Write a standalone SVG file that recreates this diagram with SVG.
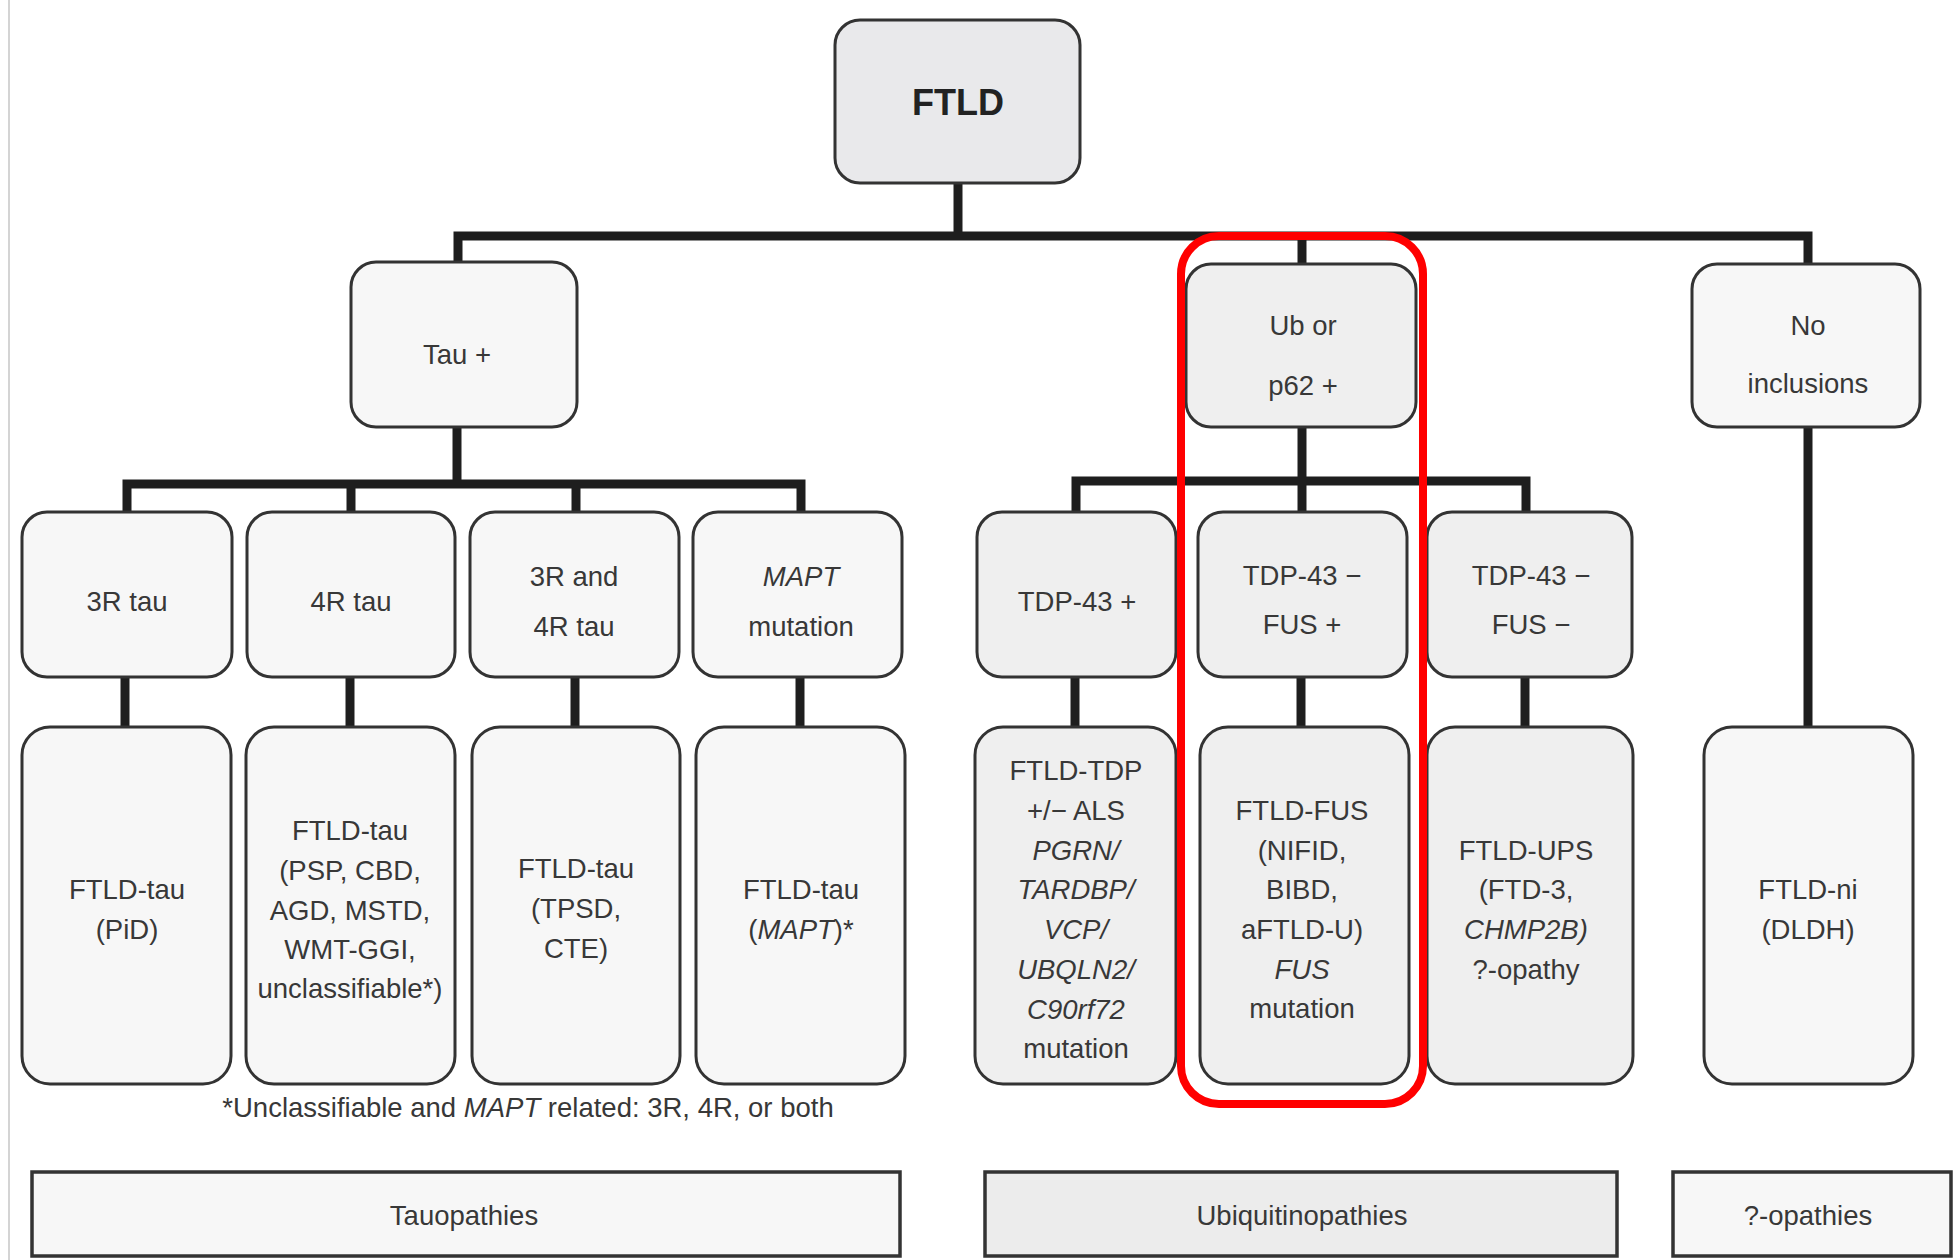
<svg xmlns="http://www.w3.org/2000/svg" width="1954" height="1260" viewBox="0 0 1954 1260">
<style>
  .box { stroke: #333; stroke-width: 3; }
  .tau { fill: #f7f7f7; }
  .ub { fill: #efefef; }
  .root { fill: #e9e9eb; }
  .cat { stroke: #333; stroke-width: 3.5; }
  .conn { fill: none; stroke: #1e1e1e; stroke-width: 9; stroke-linejoin: miter; stroke-linecap: butt; }
  text { font-family: "Liberation Sans", Arial, sans-serif; font-size: 27.5px; fill: #383838; text-anchor: middle; }
  .bold { font-weight: bold; font-size: 36px; fill: #222; }
  .it { font-style: italic; }
</style>
<rect width="1954" height="1260" fill="#ffffff"/>
<line x1="9" y1="0" x2="9" y2="1260" stroke="#d4d4d4" stroke-width="2"/>

<g id="connectors">
  <path class="conn" d="M958,183 V236"/>
  <path class="conn" d="M458,262 V236 H1808 V263"/>
  <path class="conn" d="M1302,236 V264"/>
  <path class="conn" d="M457,427 V484"/>
  <path class="conn" d="M127,512 V484 H801 V512"/>
  <path class="conn" d="M351,484 V512"/>
  <path class="conn" d="M576,484 V512"/>
  <path class="conn" d="M1302,427 V512"/>
  <path class="conn" d="M1076,512 V481 H1526 V512"/>
  <path class="conn" d="M1808,427 V727"/>
  <path class="conn" d="M125,677 V727"/>
  <path class="conn" d="M350,677 V727"/>
  <path class="conn" d="M575,677 V727"/>
  <path class="conn" d="M800,677 V727"/>
  <path class="conn" d="M1075,677 V727"/>
  <path class="conn" d="M1301,677 V727"/>
  <path class="conn" d="M1525,677 V727"/>
</g>

<g id="n-ftld">
  <rect class="box root" x="835" y="20" width="245" height="163" rx="25"/>
  <text class="bold" x="958" y="115">FTLD</text>
</g>

<g id="n-tau">
  <rect class="box tau" x="351" y="262" width="226" height="165" rx="25"/>
  <text x="457" y="364">Tau +</text>
</g>
<g id="n-ub">
  <rect class="box ub" x="1186" y="264" width="230" height="163" rx="25"/>
  <text x="1303" y="335">Ub or</text>
  <text x="1303" y="395">p62 +</text>
</g>
<g id="n-noinc">
  <rect class="box tau" x="1692" y="264" width="228" height="163" rx="25"/>
  <text x="1808" y="335">No</text>
  <text x="1808" y="393">inclusions</text>
</g>

<g id="n-3r">
  <rect class="box tau" x="22" y="512" width="210" height="165" rx="25"/>
  <text x="127" y="611">3R tau</text>
</g>
<g id="n-4r">
  <rect class="box tau" x="247" y="512" width="208" height="165" rx="25"/>
  <text x="351" y="611">4R tau</text>
</g>
<g id="n-3r4r">
  <rect class="box tau" x="470" y="512" width="209" height="165" rx="25"/>
  <text x="574" y="586">3R and</text>
  <text x="574" y="636">4R tau</text>
</g>
<g id="n-mapt">
  <rect class="box tau" x="693" y="512" width="209" height="165" rx="25"/>
  <text class="it" x="801" y="586">MAPT</text>
  <text x="801" y="636">mutation</text>
</g>
<g id="n-tdp">
  <rect class="box ub" x="977" y="512" width="199" height="165" rx="25"/>
  <text x="1077" y="611">TDP-43 +</text>
</g>
<g id="n-fusp">
  <rect class="box ub" x="1198" y="512" width="209" height="165" rx="25"/>
  <text x="1302" y="585">TDP-43 −</text>
  <text x="1302" y="634">FUS +</text>
</g>
<g id="n-fusm">
  <rect class="box ub" x="1427" y="512" width="205" height="165" rx="25"/>
  <text x="1531" y="585">TDP-43 −</text>
  <text x="1531" y="634">FUS −</text>
</g>

<g id="n-pid">
  <rect class="box tau" x="22" y="727" width="209" height="357" rx="28"/>
  <text x="127" y="899">FTLD-tau</text>
  <text x="127" y="939">(PiD)</text>
</g>
<g id="n-4rdis">
  <rect class="box tau" x="246" y="727" width="209" height="357" rx="28"/>
  <text x="350" y="840">FTLD-tau</text>
  <text x="350" y="880">(PSP, CBD,</text>
  <text x="350" y="920">AGD, MSTD,</text>
  <text x="350" y="959">WMT-GGI,</text>
  <text x="350" y="998">unclassifiable*)</text>
</g>
<g id="n-tpsd">
  <rect class="box tau" x="472" y="727" width="208" height="357" rx="28"/>
  <text x="576" y="878">FTLD-tau</text>
  <text x="576" y="918">(TPSD,</text>
  <text x="576" y="958">CTE)</text>
</g>
<g id="n-maptdis">
  <rect class="box tau" x="696" y="727" width="209" height="357" rx="28"/>
  <text x="801" y="899">FTLD-tau</text>
  <text x="801" y="939">(<tspan class="it">MAPT</tspan>)*</text>
</g>
<g id="n-ftldtdp">
  <rect class="box ub" x="975" y="727" width="201" height="357" rx="28"/>
  <text x="1076" y="780">FTLD-TDP</text>
  <text x="1076" y="820">+/− ALS</text>
  <text class="it" x="1076" y="860">PGRN/</text>
  <text class="it" x="1076" y="899">TARDBP/</text>
  <text class="it" x="1076" y="939">VCP/</text>
  <text class="it" x="1076" y="979">UBQLN2/</text>
  <text class="it" x="1076" y="1019">C90rf72</text>
  <text x="1076" y="1058">mutation</text>
</g>
<g id="n-ftldfus">
  <rect class="box ub" x="1200" y="727" width="209" height="357" rx="28"/>
  <text x="1302" y="820">FTLD-FUS</text>
  <text x="1302" y="860">(NIFID,</text>
  <text x="1302" y="899">BIBD,</text>
  <text x="1302" y="939">aFTLD-U)</text>
  <text class="it" x="1302" y="979">FUS</text>
  <text x="1302" y="1018">mutation</text>
</g>
<g id="n-ftldups">
  <rect class="box ub" x="1427" y="727" width="206" height="357" rx="28"/>
  <text x="1526" y="860">FTLD-UPS</text>
  <text x="1526" y="899">(FTD-3,</text>
  <text class="it" x="1526" y="939">CHMP2B)</text>
  <text x="1526" y="979">?-opathy</text>
</g>
<g id="n-ftldni">
  <rect class="box tau" x="1704" y="727" width="209" height="357" rx="28"/>
  <text x="1808" y="899">FTLD-ni</text>
  <text x="1808" y="939">(DLDH)</text>
</g>

<g id="footnote">
  <text x="528" y="1117">*Unclassifiable and <tspan class="it">MAPT</tspan> related: 3R, 4R, or both</text>
</g>

<g id="highlight">
  <rect x="1181" y="236" width="242" height="868" rx="38" fill="none" stroke="#ff0000" stroke-width="8"/>
</g>

<g id="c-tauopathies">
  <rect class="cat tau" x="32" y="1172" width="868" height="84"/>
  <text x="464" y="1225">Tauopathies</text>
</g>
<g id="c-ubiq">
  <rect class="cat" fill="#ececec" x="985" y="1172" width="632" height="84"/>
  <text x="1302" y="1225">Ubiquitinopathies</text>
</g>
<g id="c-opathies">
  <rect class="cat tau" x="1673" y="1172" width="278" height="84"/>
  <text x="1808" y="1225">?-opathies</text>
</g>
</svg>
